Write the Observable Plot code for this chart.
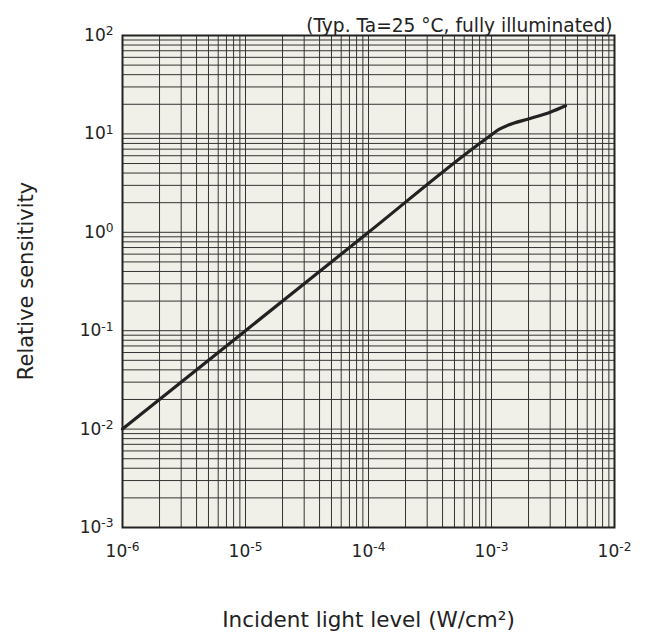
<!DOCTYPE html>
<html>
<head>
<meta charset="utf-8">
<script src="https://cdn.jsdelivr.net/npm/d3@7"></script>
<script src="https://cdn.jsdelivr.net/npm/@observablehq/plot@0.6"></script>
<style>
  html, body { margin: 0; padding: 0; background: #ffffff; }
  #wrap { position: relative; width: 652px; height: 642px; }
  #chart svg { display: block; }
  #ytitle {
    position: absolute; left: 26px; top: 281px;
    transform: translate(-50%, -50%) rotate(-90deg);
    font-family: 'DejaVu Sans', sans-serif; font-size: 21px; color: #222222;
    white-space: nowrap; line-height: 1;
  }
</style>
</head>
<body>
<div id="wrap"><div id="chart"></div><div id="ytitle"></div></div>
<script>
// ---- data ----
const lightLevel  = [1e-6, 1e-5, 1e-4, 8e-4, 1.0e-3, 1.15e-3, 1.35e-3, 2e-3, 3e-3, 4e-3];
const sensitivity = [0.01, 0.1, 1, 8, 9.8, 11.1, 12.2, 14.2, 16.6, 19.3];

const xTickValues = [1e-6, 1e-5, 1e-4, 1e-3, 1e-2];
const yTickValues = [1e-3, 1e-2, 1e-1, 1e0, 1e1, 1e2];
const gridMultipliers = [1, 2, 3, 4, 5, 6, 7, 8, 9];

const subtitle = "(Typ. Ta=25 °C, fully illuminated)";
const xTitle = "Incident light level (W/cm²)";
const yTitle = "Relative sensitivity";

// ---- derived ----
const curve = lightLevel.map((x, i) => ({x, y: sensitivity[i]}));
const gridFrom = ticks => ticks.slice(0, -1).flatMap(d => gridMultipliers.map(m => d * m)).concat(ticks.slice(-1));
const xGrid = gridFrom(xTickValues);
const yGrid = gridFrom(yTickValues);
const fmt = d => `10^${Math.round(Math.log10(d))}`;

const ink = "#222222";

const chart = Plot.plot({
  width: 652,
  height: 642,
  marginLeft: 122,
  marginRight: 38,
  marginTop: 35,
  marginBottom: 115,
  style: {fontFamily: "'DejaVu Sans', sans-serif", fontSize: "17px", color: ink, background: "#ffffff"},
  x: {type: "log", domain: [1e-6, 1e-2]},
  y: {type: "log", domain: [1e-3, 1e2]},
  marks: [
    Plot.frame({fill: "#f1f0e8", stroke: null}),
    Plot.ruleX(xGrid, {stroke: "#333333", strokeWidth: 1}),
    Plot.ruleY(yGrid, {stroke: "#333333", strokeWidth: 1}),
    Plot.line(curve, {x: "x", y: "y", stroke: ink, strokeWidth: 3.2, curve: "monotone-x"}),
    Plot.frame({stroke: ink, strokeWidth: 2}),
    Plot.axisX({ticks: xTickValues, tickFormat: fmt, tickSize: 0, tickPadding: 17, label: null, fontSize: 17}),
    Plot.axisY({ticks: yTickValues, tickFormat: fmt, tickSize: 0, tickPadding: 9, label: null, fontSize: 17}),
    Plot.text([xTitle], {frameAnchor: "bottom", dy: 99, fontSize: 21.5, fill: ink}),
    Plot.text([subtitle], {frameAnchor: "top-right", textAnchor: "end", dx: -2, dy: -17, fontSize: 18.6, fill: ink})
  ]
});

// turn "10^k" tick labels into 10 with a raised exponent
d3.select(chart).selectAll("text").each(function () {
  const t = this.textContent;
  if (/^10\^-?\d+$/.test(t)) {
    const [base, exp] = t.split("^");
    const sel = d3.select(this);
    sel.text(null);
    sel.append("tspan").text(base);
    sel.append("tspan").attr("dy", "-0.45em").attr("font-size", "0.72em").text(exp);
  }
});

document.getElementById("chart").appendChild(chart);
document.getElementById("ytitle").textContent = yTitle;
</script>
</body>
</html>
